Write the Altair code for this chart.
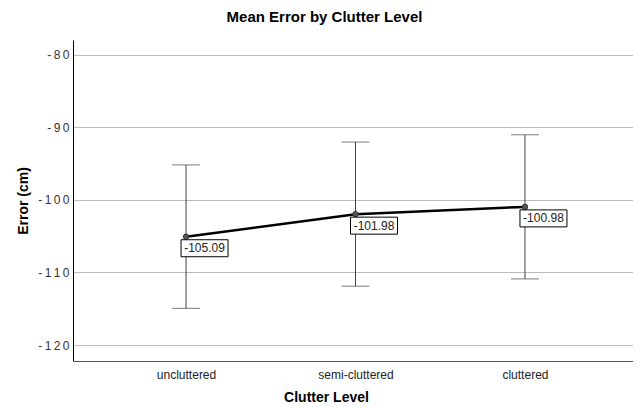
import altair as alt
import pandas as pd

categories = ["uncluttered", "semi-cluttered", "cluttered"]
means = [-105.09, -101.98, -100.98]
lower = [-114.95, -111.9, -110.9]
upper = [-95.2, -92.05, -91.05]
labels = ["-105.09", "-101.98", "-100.98"]
y_ticks = [-80, -90, -100, -110, -120]

df = pd.DataFrame({"cat": categories, "mean": means, "lo": lower, "hi": upper, "lab": labels})

FONT = "Liberation Sans"
xs = alt.X("cat:N", sort=categories, title="Clutter Level",
           scale=alt.Scale(type="point", padding=0.667),
           axis=alt.Axis(labelAngle=0, ticks=False, domainColor="#555", labelFontSize=12,
                         labelColor="#222", labelFont=FONT, labelPadding=8,
                         titleFontSize=14, titleFont=FONT, titleFontWeight="bold",
                         titleColor="#000", titlePadding=10, titleX=253))
ys = alt.Y("mean:Q", title="Error (cm)",
           scale=alt.Scale(domain=[-122.2, -78], nice=False, zero=False),
           axis=alt.Axis(values=y_ticks, ticks=False, domainColor="#000",
                         gridColor="#bbb", labelFontSize=12, labelColor="#333", labelFont=FONT,
                         labelExpr="join(split(replace(datum.label, '\u2212', '-'), ''), '\u2009')",
                         labelPadding=4, titleFontSize=14, titleFont=FONT,
                         titleFontWeight="bold", titleColor="#000", titlePadding=7))

base = alt.Chart(df)

err = base.mark_rule(color="#444", strokeWidth=1).encode(x=xs, y="lo:Q", y2="hi:Q")
cap_lo = base.mark_tick(color="#444", size=28, thickness=1, orient="horizontal").encode(x=xs, y=alt.Y("lo:Q"))
cap_hi = base.mark_tick(color="#444", size=28, thickness=1, orient="horizontal").encode(x=xs, y=alt.Y("hi:Q"))
line = base.mark_line(color="#000", strokeWidth=2.5).encode(x=xs, y=ys)
pts = base.mark_point(filled=True, size=30, color="#555", stroke="#333", strokeWidth=1, opacity=1).encode(x=xs, y=ys)
box = base.mark_rect(width=47, height=17, fill="white", stroke="#000", strokeWidth=1,
                     xOffset=18.5, yOffset=11.5).encode(x=xs, y=ys)
txt = base.mark_text(fontSize=12, font=FONT, color="#222", xOffset=18.5, yOffset=11.5).encode(
    x=xs, y=ys, text="lab:N")

chart = alt.layer(err, cap_lo, cap_hi, line, pts, box, txt).properties(
    width=565, height=321,
    title=alt.TitleParams("Mean Error by Clutter Level", font=FONT, fontSize=15, fontWeight="bold",
                          color="#000", anchor="middle", dx=-31, offset=15),
    autosize=alt.AutoSizeParams(type="none"),
    padding={"left": 65, "top": 32, "right": -5, "bottom": 44},
).configure_view(stroke=None).configure_axis(gridColor="#bbb")

chart.save("out.html", embed_options={"renderer": "svg", "actions": False})
